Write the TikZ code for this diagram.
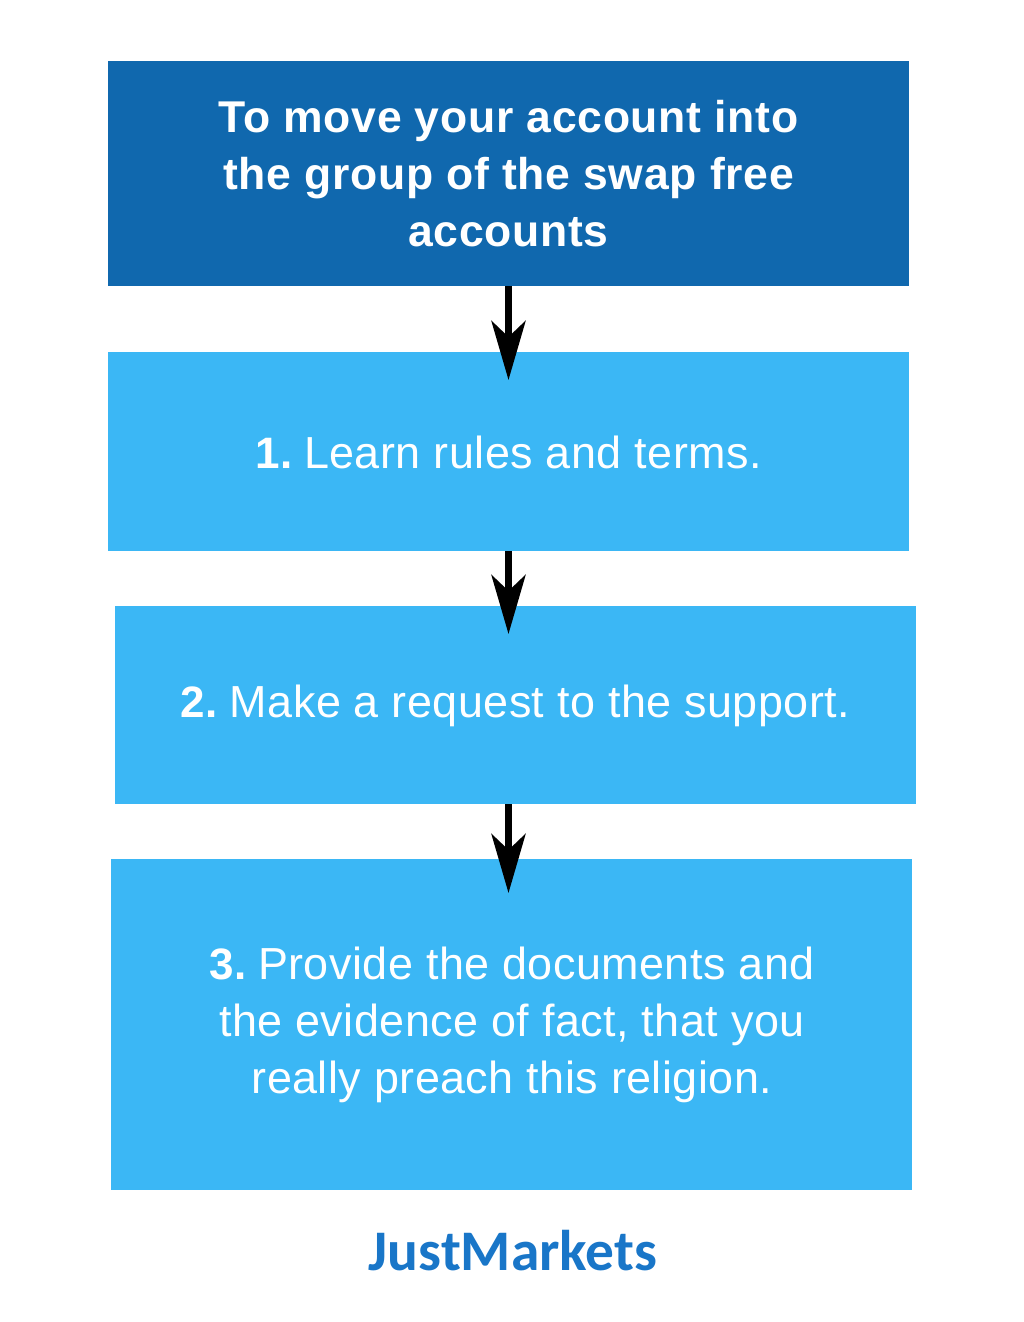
\documentclass[tikz,border=0pt]{standalone}
\usepackage{fontspec}
\setmainfont{Liberation Sans}
\newfontfamily\logofont{Carlito}
\usetikzlibrary{arrows.meta}
\definecolor{headblue}{HTML}{1068AE}
\definecolor{stepblue}{HTML}{3BB7F5}
\definecolor{logoblue}{HTML}{1976C8}
\newcommand{\stepno}[1]{{\fontsize{44}{57.3}\selectfont\bfseries\addfontfeatures{LetterSpace=1.2}#1}\hspace{-5.5pt}}
\newcommand{\lowered}[1]{\raisebox{-1pt}[\height][\depth]{#1}}
\tikzset{
  x=1pt,y=-1pt,
  boxbase/.style={anchor=north west,inner sep=0pt,outer sep=0pt,minimum width=801pt,text=white,align=center},
  headbox/.style={boxbase,fill=headblue,font=\fontsize{44.5}{57.3}\selectfont\bfseries\addfontfeatures{LetterSpace=1.6}},
  stepbox/.style={boxbase,fill=stepblue,font=\fontsize{44.9}{57.3}\selectfont\addfontfeatures{LetterSpace=1.05}},
  link/.style={line width=7pt,draw=black,-{Stealth[length=59pt,width=34pt,inset=16pt,fill=black]},shorten >=0pt},
}
\begin{document}
\begin{tikzpicture}
\useasboundingbox (0,0) rectangle (1024,1322);
\node[headbox,minimum height=225pt] (head) at (108,61) {To move your account into\\the group of the swap free\\accounts};
\node[stepbox,minimum height=199pt] (one) at (108,352) {\lowered{\stepno{1.} Learn rules and terms.}};
\node[stepbox,minimum height=198pt] (two) at (115,606) {\lowered{\stepno{2.} Make a request to the support.}};
\node[stepbox,minimum height=331pt] (three) at (111.4,859) {\lowered{\stepno{3.} Provide the documents and}\\the evidence of fact, that you\\really preach this religion.};
\coordinate (t1) at (508.5,380);
\coordinate (t2) at (508.5,634);
\coordinate (t3) at (508.5,893);
\draw[link] (head.south -| t1) -- (t1);
\draw[link] (one.south -| t2) -- (t2);
\draw[link] (two.south -| t3) -- (t3);
\node[inner sep=0pt,text=logoblue,font=\logofont\bfseries\fontsize{57.4}{57.4}\selectfont] (logo) at (513,1251) {JustMarkets};
\end{tikzpicture}
\end{document}
